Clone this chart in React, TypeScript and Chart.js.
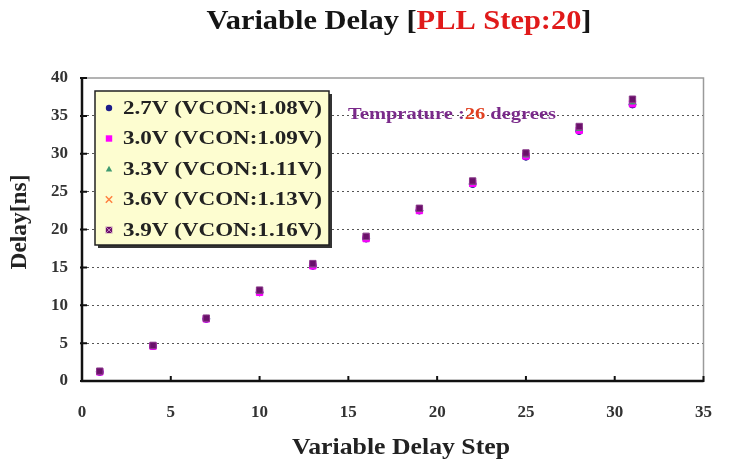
import React, { useEffect, useRef } from "react";
import { Chart, registerables } from "chart.js";

Chart.register(...registerables);

const steps = [1, 4, 7, 10, 13, 16, 19, 22, 25, 28, 31];
const seriesLabels = [
  "2.7V (VCON:1.08V)",
  "3.0V (VCON:1.09V)",
  "3.3V (VCON:1.11V)",
  "3.6V (VCON:1.13V)",
  "3.9V (VCON:1.16V)",
];
const delay27 = [1.2, 4.6, 8.2, 11.7, 15.2, 18.8, 22.5, 26.0, 29.6, 33.0, 36.5];
const delay30 = [1.2, 4.6, 8.2, 11.7, 15.2, 18.8, 22.5, 26.1, 29.7, 33.1, 36.6];
const delay33 = [1.2, 4.6, 8.2, 11.8, 15.3, 18.9, 22.6, 26.2, 29.8, 33.3, 36.8];
const delay36 = [1.3, 4.7, 8.3, 11.9, 15.4, 19.0, 22.7, 26.3, 30.0, 33.5, 37.0];
const delay39 = [1.3, 4.7, 8.3, 12.0, 15.5, 19.1, 22.8, 26.4, 30.1, 33.6, 37.2];
const seriesValues = [delay27, delay30, delay33, delay36, delay39];
const seriesColors = ["#1c1c8a", "#ff00ff", "#3f9a70", "#ff8040", "#6a106a"];
const seriesStyles = ["circle", "rect", "triangle", "crossRot", "rect"];
const xTicks = [0, 5, 10, 15, 20, 25, 30, 35];
const yTicks = [0, 5, 10, 15, 20, 25, 30, 35, 40];

const SERIF = '"Liberation Serif", "Times New Roman", serif';

function fitText(
  ctx: CanvasRenderingContext2D,
  parts: { t: string; c: string }[],
  font: string,
  cx: number,
  cy: number,
  width: number,
  align: "left" | "center" = "center"
) {
  ctx.save();
  ctx.font = font;
  ctx.textBaseline = "middle";
  ctx.textAlign = "left";
  const total = parts.reduce((a, p) => a + ctx.measureText(p.t).width, 0);
  const sx = width / total;
  const x0 = align === "center" ? cx - width / 2 : cx;
  ctx.translate(x0, cy);
  ctx.scale(sx, 1);
  let x = 0;
  parts.forEach((p) => {
    ctx.fillStyle = p.c;
    ctx.fillText(p.t, x, 0);
    x += ctx.measureText(p.t).width;
  });
  ctx.restore();
}

function drawMarker(ctx: CanvasRenderingContext2D, i: number, x: number, y: number) {
  const style = seriesStyles[i];
  const color = seriesColors[i];
  ctx.save();
  ctx.fillStyle = color;
  ctx.strokeStyle = color;
  ctx.lineWidth = 1.5;
  const r = 3.2;
  ctx.beginPath();
  if (style === "circle") {
    ctx.arc(x, y, r, 0, Math.PI * 2);
    ctx.fill();
  } else if (i === 4) {
    ctx.fillRect(x - r, y - r, r * 2, r * 2);
    ctx.strokeStyle = "#c080c0";
    ctx.lineWidth = 1;
    ctx.moveTo(x - r, y - r);
    ctx.lineTo(x + r, y + r);
    ctx.moveTo(x + r, y - r);
    ctx.lineTo(x - r, y + r);
    ctx.stroke();
  } else if (style === "rect") {
    ctx.fillRect(x - r, y - r, r * 2, r * 2);
  } else if (style === "triangle") {
    ctx.moveTo(x, y - r);
    ctx.lineTo(x + r, y + r * 0.8);
    ctx.lineTo(x - r, y + r * 0.8);
    ctx.closePath();
    ctx.fill();
  } else {
    ctx.moveTo(x - r, y - r);
    ctx.lineTo(x + r, y + r);
    ctx.moveTo(x + r, y - r);
    ctx.lineTo(x - r, y + r);
    ctx.stroke();
  }
  ctx.restore();
}

const decorPlugin = {
  id: "decor",
  beforeDatasetsDraw(chart: any) {
    const { ctx, chartArea } = chart;
    const { left, right, top, bottom } = chartArea;
    const xs = chart.scales.x;
    const ys = chart.scales.y;
    ctx.save();
    ctx.strokeStyle = "#9a9a9a";
    ctx.lineWidth = 1.5;
    ctx.beginPath();
    ctx.moveTo(left, top);
    ctx.lineTo(right, top);
    ctx.lineTo(right, bottom);
    ctx.stroke();
    ctx.strokeStyle = "#111";
    ctx.lineWidth = 2.5;
    ctx.beginPath();
    ctx.moveTo(left, top);
    ctx.lineTo(left, bottom);
    ctx.lineTo(right, bottom);
    ctx.stroke();
    ctx.lineWidth = 2;
    ctx.beginPath();
    xTicks.forEach((v) => {
      const px = xs.getPixelForValue(v);
      ctx.moveTo(px, bottom - 5);
      ctx.lineTo(px, bottom + 1);
    });
    yTicks.forEach((v) => {
      const py = ys.getPixelForValue(v);
      ctx.moveTo(left - 2, py);
      ctx.lineTo(left + 5, py);
    });
    ctx.stroke();
    ctx.restore();
  },
  afterDraw(chart: any) {
    const { ctx } = chart;
    ctx.save();
    fitText(
      ctx,
      [
        { t: "Variable Delay [", c: "#151515" },
        { t: "PLL Step:20", c: "#e01a1a" },
        { t: "]", c: "#151515" },
      ],
      `bold 27px ${SERIF}`,
      399,
      22,
      385
    );
    fitText(ctx, [{ t: "Variable Delay Step", c: "#222" }], `bold 24px ${SERIF}`, 401, 448, 218);
    ctx.save();
    ctx.translate(20, 222);
    ctx.rotate(-Math.PI / 2);
    fitText(ctx, [{ t: "Delay[ns]", c: "#222" }], `bold 23px ${SERIF}`, 0, 0, 95);
    ctx.restore();

    fitText(
      ctx,
      [
        { t: "Temprature :", c: "#7a2a8a" },
        { t: "26", c: "#e04020" },
        { t: " degrees", c: "#7a2a8a" },
      ],
      `bold 17px ${SERIF}`,
      348,
      115,
      208,
      "left"
    );

    const lx = 95, ly = 91, lw = 234, lh = 154;
    ctx.fillStyle = "#333";
    ctx.fillRect(lx + 3, ly + 3, lw, lh);
    ctx.fillStyle = "#fdfdd0";
    ctx.fillRect(lx, ly, lw, lh);
    ctx.strokeStyle = "#222";
    ctx.lineWidth = 1.5;
    ctx.strokeRect(lx, ly, lw, lh);
    seriesLabels.forEach((lab, i) => {
      const yy = 108 + i * 30.5;
      drawMarker(ctx, i, 109, yy);
      fitText(ctx, [{ t: lab, c: "#222" }], `bold 19px ${SERIF}`, 123, yy + 1, 199, "left");
    });
    ctx.restore();
  },
};

export default function App() {
  const ref = useRef<HTMLCanvasElement | null>(null);
  useEffect(() => {
    if (!ref.current) return;
    const chart = new Chart(ref.current, {
      type: "scatter",
      data: {
        datasets: seriesLabels.map((lab, i) => ({
          label: lab,
          data: steps.map((s, j) => ({ x: s, y: seriesValues[i][j] })),
          backgroundColor: seriesColors[i],
          borderColor: i === 4 ? "#8a3a8a" : seriesColors[i],
          pointStyle: seriesStyles[i] as any,
          pointRadius: i === 1 || i === 4 ? 4.5 : 3.5,
          borderWidth: 1,
          showLine: false,
          order: 4 - i,
        })),
      },
      plugins: [decorPlugin],
      options: {
        responsive: false,
        animation: false,
        devicePixelRatio: 1,
        layout: { padding: { left: 0, top: 78, right: 13, bottom: 0 } },
        plugins: {
          legend: { display: false },
          title: { display: false },
          tooltip: { enabled: false },
        },
        scales: {
          x: {
            type: "linear",
            min: 0,
            max: 35,
            afterFit: (s: any) => {
              s.height = 83;
            },
            afterBuildTicks: (s: any) => {
              s.ticks = xTicks.map((v) => ({ value: v }));
            },
            grid: { display: false, drawTicks: false },
            border: { display: false },
            ticks: {
              padding: 21,
              color: "#333",
              font: { family: SERIF, size: 17, weight: "bold" },
            },
          },
          y: {
            type: "linear",
            min: 0,
            max: 40,
            afterFit: (s: any) => {
              s.width = 82;
            },
            afterBuildTicks: (s: any) => {
              s.ticks = yTicks.map((v) => ({ value: v }));
            },
            grid: {
              drawTicks: false,
              color: (c: any) =>
                c.tick && (c.tick.value === 0 || c.tick.value === 40) ? "rgba(0,0,0,0)" : "#555",
              lineWidth: 1,
            },
            border: { display: false, dash: [2, 3] },
            ticks: {
              padding: 14,
              color: "#333",
              font: { family: SERIF, size: 17, weight: "bold" },
            },
          },
        },
      } as any,
    });
    return () => chart.destroy();
  }, []);
  return (
    <div style={{ position: "fixed", left: 0, top: 0, width: 733, height: 464, background: "#fff" }}>
      <canvas ref={ref} width={733} height={464} style={{ width: 733, height: 464, display: "block" }} />
    </div>
  );
}
